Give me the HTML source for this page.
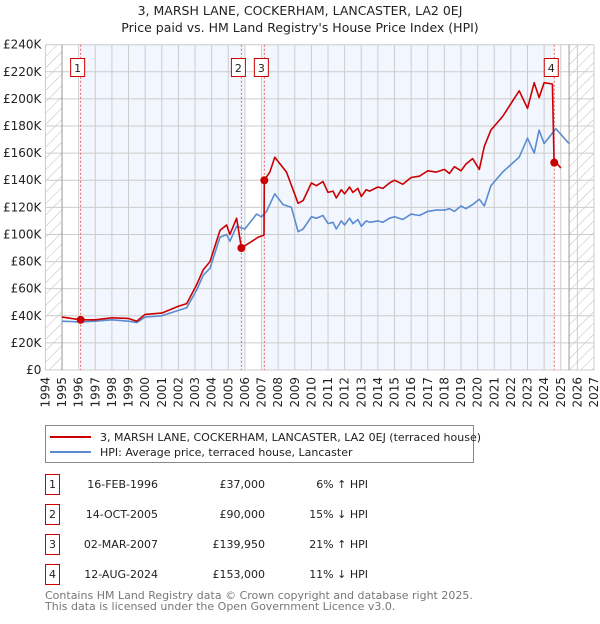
<!DOCTYPE html>
<html><head><meta charset="utf-8"><style>
body{margin:0;background:#fff;font-family:"DejaVu Sans","Liberation Sans",sans-serif;}
svg text{font-family:"DejaVu Sans","Liberation Sans",sans-serif;}
</style></head><body>
<svg id="chart" width="600" height="620" xmlns="http://www.w3.org/2000/svg">
<defs><pattern id="hatch" width="8" height="8" patternUnits="userSpaceOnUse" patternTransform="rotate(45)"><line x1="0" y1="0" x2="0" y2="8" stroke="#bbb" stroke-width="1"/></pattern></defs>
<text x="300" y="15" text-anchor="middle" font-size="12.5" fill="#222">3, MARSH LANE, COCKERHAM, LANCASTER, LA2 0EJ</text>
<text x="300" y="32" text-anchor="middle" font-size="12.5" fill="#222">Price paid vs. HM Land Registry's House Price Index (HPI)</text>
<g id="bg"></g><g id="grid"></g><g id="axes"></g><g id="series"></g><g id="marks"></g>
<g>
<rect x="45.5" y="425.5" width="428" height="37" fill="#fff" stroke="#888"/>
<line x1="50" y1="437" x2="91" y2="437" stroke="#cc0000" stroke-width="2"/>
<text x="100" y="441" font-size="11" fill="#222">3, MARSH LANE, COCKERHAM, LANCASTER, LA2 0EJ (terraced house)</text>
<line x1="50" y1="452" x2="91" y2="452" stroke="#5b8bd0" stroke-width="2"/>
<text x="100" y="456" font-size="11" fill="#222">HPI: Average price, terraced house, Lancaster</text>
</g>
<g id="table" font-size="11" fill="#222"></g>
<text x="45" y="599" font-size="11" fill="#777">Contains HM Land Registry data © Crown copyright and database right 2025.</text>
<text x="45" y="610" font-size="11" fill="#777">This data is licensed under the Open Government Licence v3.0.</text>
</svg>
<script>
const yearTicks=[1994,1995,1996,1997,1998,1999,2000,2001,2002,2003,2004,2005,2006,2007,2008,2009,2010,2011,2012,2013,2014,2015,2016,2017,2018,2019,2020,2021,2022,2023,2024,2025,2026,2027];
const priceTicks=[0,20,40,60,80,100,120,140,160,180,200,220,240];
const hpiYears=[1995,1996.1,1997,1998,1999,1999.5,2000,2001,2002,2002.5,2003.1,2003.5,2003.9,2004.5,2004.9,2005.1,2005.5,2006,2006.7,2007,2007.3,2007.8,2008.3,2008.8,2009.2,2009.5,2010,2010.3,2010.7,2011,2011.3,2011.5,2011.8,2012,2012.3,2012.5,2012.8,2013,2013.3,2013.5,2014,2014.3,2014.7,2015,2015.5,2016,2016.5,2017,2017.5,2018,2018.3,2018.6,2019,2019.3,2019.7,2020.1,2020.4,2020.8,2021.5,2022.5,2023,2023.4,2023.7,2024,2024.7,2025.5];
const hpiValues=[36,35.5,36,37,36,35,39,40,44,46,59,70,75,98,100,95,106,104,115,113,117,130,122,120,102,104,113,112,114,108,109,104,110,107,112,108,111,106,110,109,110,109,112,113,111,115,114,117,118,118,119,117,121,119,122,126,121,136,146,157,171,160,177,167,178,167];
const paidYears=[1995,1996.12,1997,1998,1999,1999.5,2000,2001,2002,2002.5,2003.1,2003.5,2003.9,2004.5,2004.9,2005.1,2005.5,2005.79,2006.3,2006.8,2007.15,2007.17,2007.5,2007.8,2008.5,2009.2,2009.5,2010,2010.3,2010.7,2011,2011.3,2011.5,2011.8,2012,2012.3,2012.5,2012.8,2013,2013.3,2013.5,2014,2014.3,2014.7,2015,2015.5,2016,2016.5,2017,2017.5,2018,2018.3,2018.6,2019,2019.3,2019.7,2020.1,2020.4,2020.8,2021.5,2022.5,2023,2023.4,2023.7,2024,2024.5,2024.6,2024.61,2024.8,2025,2025.5];
const paidValues=[39,37,37,38.5,38,36,41,42,47,49,63,74,80,103,107,100,112,90,94,98,99.5,139.95,146,157,146,123,125,138,136,139,131,132,127,133,130,135,131,134,128,133,132,135,134,138,140,137,142,143,147,146,148,145,150,147,152,156,148,165,177,187,206,193,212,201,212,211,153,156,152,149];
const saleYears=[1996.12,2005.79,2007.17,2024.61];
const saleValues=[37,90,139.95,153];
const saleLabels=["1","2","3","4"];
const saleDates=["16-FEB-1996","14-OCT-2005","02-MAR-2007","12-AUG-2024"];
const salePrices=["£37,000","£90,000","£139,950","£153,000"];
const saleHpi=["6% ↑ HPI","15% ↓ HPI","21% ↑ HPI","11% ↓ HPI"];
const NS="http://www.w3.org/2000/svg";
const X0=45.4,X1=594,Y0=370,Y1=44.7,yMin=1994,yMax=2027,vMax=240;
const xs=y=>X0+(y-yMin)/(yMax-yMin)*(X1-X0);
const ys=v=>Y0-v/vMax*(Y0-Y1);
function mk(tag,attrs,parent){const e=document.createElementNS(NS,tag);for(const k in attrs)e.setAttribute(k,attrs[k]);parent.appendChild(e);return e;}
const bg=document.getElementById('bg'),grid=document.getElementById('grid'),axes=document.getElementById('axes'),series=document.getElementById('series'),marks=document.getElementById('marks'),table=document.getElementById('table');
let r;
r=mk('rect',{x:X0,y:Y1,width:X1-X0,height:Y0-Y1,fill:'#fff'},bg);


r=mk('rect',{x:xs(saleYears[0]),y:Y1,width:xs(saleYears[3])-xs(saleYears[0]),height:Y0-Y1,fill:'#f2f6fe'},bg);


mk('rect',{x:xs(2006),y:Y1,width:xs(2007)-xs(2006),height:Y0-Y1,fill:'#fff'},bg);
r=mk('rect',{x:X0,y:Y1,width:xs(1995)-X0,height:Y0-Y1,fill:'url(#hatch)'},bg);


r=mk('rect',{x:xs(2025.5),y:Y1,width:X1-xs(2025.5),height:Y0-Y1,fill:'url(#hatch)'},bg);


yearTicks.forEach(y=>{mk('line',{x1:xs(y),x2:xs(y),y1:Y1,y2:Y0,stroke:'#ccc','stroke-width':1},grid);
 const t=mk('text',{x:0,y:0,'font-size':12,fill:'#222','text-anchor':'end',transform:`translate(${xs(y)+4},${Y0+7}) rotate(-90)`},axes);t.textContent=y;
 
 });
priceTicks.forEach(v=>{mk('line',{x1:X0,x2:X1,y1:ys(v),y2:ys(v),stroke:'#ccc','stroke-width':1},grid);
 const t=mk('text',{x:X0-4,y:ys(v)+4,'font-size':12,fill:'#222','text-anchor':'end'},axes);t.textContent=v===0?'£0':'£'+v+'K';
 
 });
mk('line',{x1:xs(1995),x2:xs(1995),y1:Y1,y2:Y0,stroke:'#999'},grid);
mk('line',{x1:xs(2025.5),x2:xs(2025.5),y1:Y1,y2:Y0,stroke:'#999'},grid);
saleYears.forEach((y,i)=>{const l=mk('line',{x1:xs(y),x2:xs(y),y1:Y1,y2:Y0,stroke:'#f06060','stroke-dasharray':'2,2'},grid);
 
 });
function path(xa,va,col,name){const d=xa.map((y,i)=>(i?'L':'M')+xs(y).toFixed(1)+','+ys(va[i]).toFixed(1)).join('');
 const p=mk('path',{d:d,fill:'none',stroke:col,'stroke-width':1.6,'stroke-linejoin':'round'},series);
 
 }
path(hpiYears,hpiValues,'#5b8bd0','hpi-line');
path(paidYears,paidValues,'#cc0000','price-paid-line');
saleYears.forEach((y,i)=>{const c=mk('circle',{cx:xs(y),cy:ys(saleValues[i]),r:4,fill:'#cc0000'},marks);
 
 
 const g=mk('g',{},marks);
 
 
 mk('rect',{x:xs(y)-10,y:58.5,width:14,height:18,fill:'#fff',stroke:'#cc0000'},g);
 const t=mk('text',{x:xs(y)-3,y:72,'font-size':11,'text-anchor':'middle',fill:'#222'},g);t.textContent=saleLabels[i];
 const row=mk('g',{},table);
 
 
 const cy=483+i*30;
 mk('rect',{x:45.5,y:cy-8.5,width:14,height:20,fill:'#fff',stroke:'#cc0000'},row);
 let tt=mk('text',{x:52.5,y:cy+5,'text-anchor':'middle'},row);tt.textContent=saleLabels[i];
 tt=mk('text',{x:158,y:cy+5,'text-anchor':'end'},row);tt.textContent=saleDates[i];
 tt=mk('text',{x:265,y:cy+5,'text-anchor':'end'},row);tt.textContent=salePrices[i];
 tt=mk('text',{x:368,y:cy+5,'text-anchor':'end'},row);tt.textContent=saleHpi[i];
});
</script>
</body></html>
